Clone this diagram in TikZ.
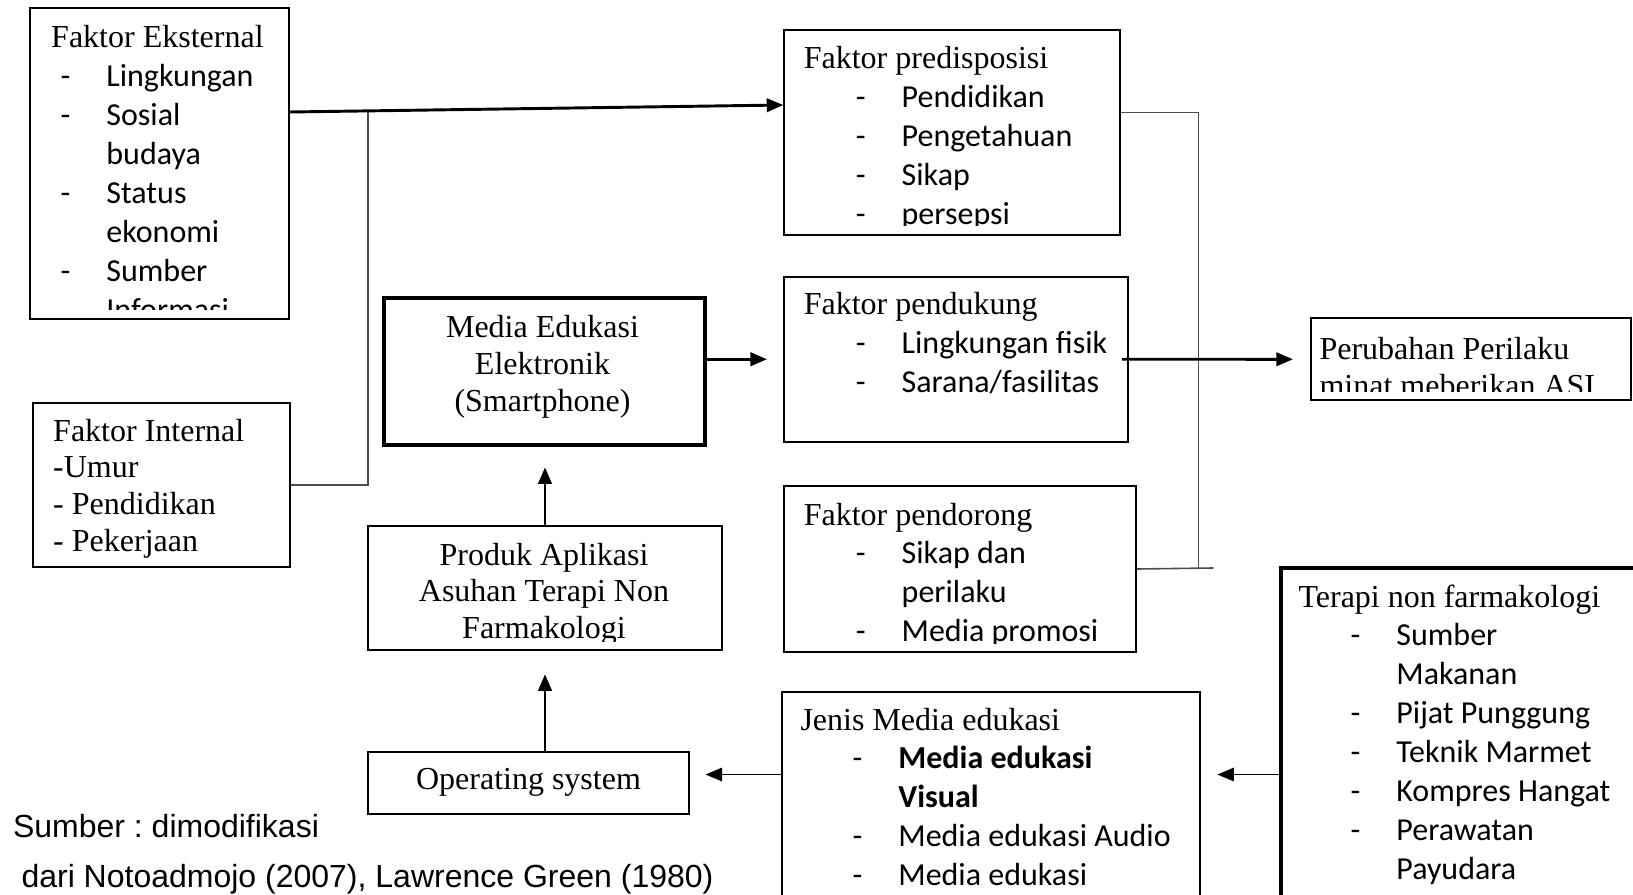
\documentclass[tikz,border=0pt]{standalone}
\usepackage{fontspec}
\setmainfont{Liberation Serif}
\newfontfamily\calibri{Carlito}
\newfontfamily\arialf{Liberation Sans}
\usepackage{tikz}
\usetikzlibrary{arrows.meta,calc}
\frenchspacing
\newlength{\px}\setlength{\px}{0.375pt}
\newcommand{\rows}[1]{\begin{tabular}[t]{@{}l@{}}#1\end{tabular}}
\newcommand{\crows}[1]{\begin{tabular}[t]{@{}c@{}}#1\end{tabular}}
\newcommand{\itm}[2][19.5pt]{\calibri\hspace*{#1}\makebox[17.2pt][l]{-}#2}
\newcommand{\cnt}[2][19.5pt]{\calibri\hspace*{#1}\hspace*{17.2pt}#2}

\begin{document}
\begin{tikzpicture}[
  x=0.375pt, y=-0.375pt,
  box/.style={draw, line width=0.75pt, rectangle, inner sep=0pt, anchor=north west},
  thickbox/.style={box, line width=1.5pt},
  txt/.style={inner sep=0pt, anchor=base west, font=\fontsize{12}{14.6}\selectfont},
  ttxt/.style={inner sep=0pt, anchor=base west, font=\fontsize{12}{13.8}\selectfont},
  ctxt/.style={inner sep=0pt, anchor=base, font=\fontsize{12}{13.7}\selectfont},
  link/.style={draw=black!70, line width=0.6pt},
  arr/.style={line width=1.1pt, -{Triangle[length=6.2pt,width=5pt]}},
  thinarr/.style={arr, line width=0.65pt},
]
\path[use as bounding box, clip] (0,0) rectangle (1633,895);

% boxes
\node[box, minimum width=258.4*\px, minimum height=310.7*\px] (ext) at (29.3,7.3) {};
\node[box, minimum width=256.7*\px, minimum height=164.3*\px] (int) at (32.3,401.7) {};
\node[box, minimum width=335.7*\px, minimum height=205*\px] (pred) at (783.3,29.3) {};
\node[box, minimum width=344*\px, minimum height=164.5*\px] (dukung) at (783,276) {};
\node[box, minimum width=351.7*\px, minimum height=166*\px] (dorong) at (783.3,485) {};
\node[box, minimum width=320*\px, minimum height=82*\px] (ubah) at (1310,317.3) {};
\node[thickbox, minimum width=321.6*\px, minimum height=147.3*\px] (media) at (381.7,296) {};
\node[box, minimum width=353.4*\px, minimum height=124.3*\px] (produk) at (367.3,525) {};
\node[box, minimum width=321.6*\px, minimum height=62*\px,
  font=\fontsize{12}{14}\selectfont] (os) at (366.7,750.7) {Operating system};
\node[box, minimum width=418.6*\px, minimum height=280*\px] (jenis) at (780.7,690.7) {};
\node[thickbox, minimum width=430*\px, minimum height=440*\px] (terapi) at (1279.3,566) {};

% box texts (cut off at the inner margin)
\begin{scope}
  \clip (ext.north west) rectangle ([yshift=3.75pt]ext.south east);
  \node[txt] (exttxt) at (50.7,48) {\rows{Faktor Eksternal\\
    \itm[3.5pt]{Lingkungan}\\ \itm[3.5pt]{Sosial}\\ \cnt[3.5pt]{budaya}\\
    \itm[3.5pt]{Status}\\ \cnt[3.5pt]{ekonomi}\\ \itm[3.5pt]{Sumber}\\
    \cnt[3.5pt]{Informasi}}};
\end{scope}
\begin{scope}
  \clip (int.north west) rectangle ([yshift=3.75pt]int.south east);
  \node[ttxt] (inttxt) at (52.7,441) {\rows{Faktor Internal\\-Umur\\- Pendidikan\\- Pekerjaan}};
\end{scope}
\begin{scope}
  \clip (pred.north west) rectangle ([yshift=4.2pt]pred.south east);
  \node[txt] (predtxt) at (803.3,69) {\rows{Faktor predisposisi\\
    \itm{Pendidikan}\\ \itm{Pengetahuan}\\ \itm{Sikap}\\ \itm{persepsi}}};
\end{scope}
\node[txt] (dukungtxt) at (803.3,315) {\rows{Faktor pendukung\\
  \itm{Lingkungan fisik}\\ \itm{Sarana/fasilitas}}};
\begin{scope}
  \clip (dorong.north west) rectangle ([yshift=3.75pt]dorong.south east);
  \node[txt] (dorongtxt) at (803.3,525) {\rows{Faktor pendorong\\
    \itm{Sikap dan}\\ \cnt{perilaku}\\ \itm{Media promosi}}};
\end{scope}
\begin{scope}
  \clip (ubah.north west) rectangle ([yshift=3.75pt]ubah.south east);
  \node[ttxt] (ubahtxt) at (1319,360) {\rows{Perubahan Perilaku\\minat meberikan ASI}};
\end{scope}
\node[ctxt] (mediatxt) at (542.5,338) {\crows{Media Edukasi\\Elektronik\\(Smartphone)}};
\begin{scope}
  \clip (produk.north west) rectangle ([yshift=3.75pt]produk.south east);
  \node[ctxt] (produktxt) at (544,565) {\crows{Produk Aplikasi\\Asuhan Terapi Non\\Farmakologi}};
\end{scope}
\node[txt] (jenistxt) at (800,730) {\rows{Jenis Media edukasi\\
  \itm{\bfseries Media edukasi}\\ \cnt{\bfseries Visual}\\
  \itm{Media edukasi Audio}\\ \itm{Media edukasi}}};
\node[txt] (terapitxt) at (1298,607) {\rows{Terapi non farmakologi\\
  \itm{Sumber}\\ \cnt{Makanan}\\ \itm{Pijat Punggung}\\ \itm{Teknik Marmet}\\
  \itm{Kompres Hangat}\\ \itm{Perawatan}\\ \cnt{Payudara}}};

% source note
\node[inner sep=0pt, anchor=base west, font=\arialf\fontsize{12}{14}\selectfont] (src1) at (12.5,837) {Sumber : dimodifikasi};
\node[inner sep=0pt, anchor=base west, font=\arialf\fontsize{12}{14}\selectfont] (src2) at (21,887) {dari Notoadmojo (2007), Lawrence Green (1980)};

% connectors
\coordinate (jl) at (367.7,112);
\coordinate (pa) at (783.3,105);
\coordinate (pr) at (1198.3,112.7);
\coordinate (jr) at (1198.3,568);
\coordinate (jre) at (1213.3,568);
\coordinate (jy) at (780.7,774.5);

\draw[arr] (ext.east |- jl) -- (pa);
\draw[link] (jl) |- (int.east);
\draw[link] (pred.east |- pr) -- (pr) -- (jr);
\draw[link] (dorong.east) -- (jre);
\draw[arr, shorten >=6.4pt] ([xshift=-2.6pt]dukung.east) -- (ubah.west);
\draw[arr, shorten >=6pt] (media.east |- dukung.west) -- (dukung.west);
\draw[arr, shorten >=7.5pt] (produk.north) -- (produk.north |- media.south);
\draw[arr, shorten >=8.6pt] (os.north -| produk.south) -- (produk.south);
\draw[thinarr, shorten >=5.7pt] (jenis.west |- jy) -- (os.east |- jy);
\draw[thinarr, shorten >=6pt] (terapi.west |- jy) -- (jenis.east |- jy);

\end{tikzpicture}
\end{document}
